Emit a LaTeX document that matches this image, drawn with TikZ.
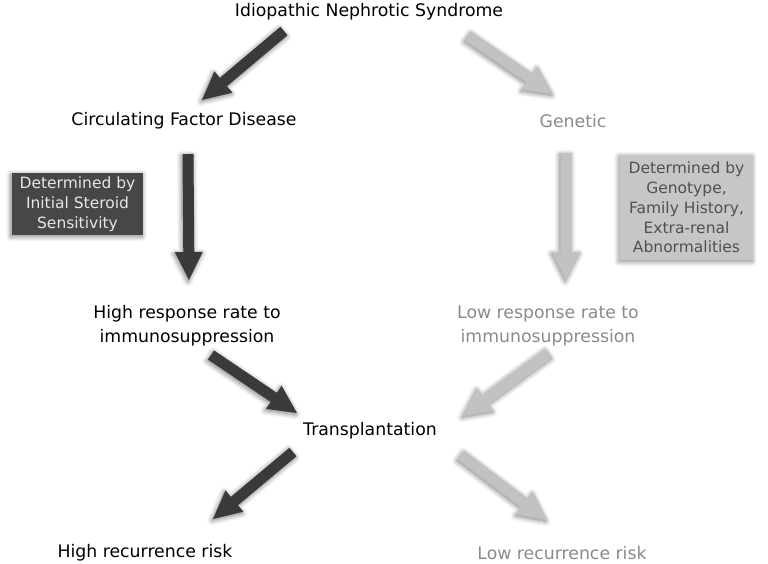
\documentclass[tikz,border=0pt]{standalone}
\usepackage{fontspec}
\setmainfont{DejaVu Sans}
\usetikzlibrary{calc,shadows.blur}
\definecolor{darkarr}{HTML}{3A3A3A}
\definecolor{lightarr}{HTML}{C2C2C2}
\definecolor{darkbox}{HTML}{474747}
\definecolor{lightbox}{HTML}{C6C6C6}
\definecolor{graytext}{HTML}{8A8A8A}
\definecolor{boxdarktext}{HTML}{505050}
\definecolor{boxlighttext}{HTML}{E6E6E6}
\newcommand\blockarr[3][]{%
  \path ($(#3)!28pt!(#2)$) coordinate (hb);
  \fill[#1] ($(#2)!5.5pt!90:(#3)$) -- ($(hb)!5.5pt!90:(#3)$) -- ($(hb)!14pt!90:(#3)$) -- (#3)
    -- ($(hb)!14pt!-90:(#3)$) -- ($(hb)!5.5pt!-90:(#3)$) -- ($(#2)!5.5pt!-90:(#3)$) -- cycle;}
\begin{document}
\begin{tikzpicture}[x=1pt,y=-1pt,
  lab/.style={font=\fontsize{17.3}{24}\selectfont, align=center, inner sep=0pt},
  dlab/.style={lab, text=black},
  glab/.style={lab, text=graytext},
  shad/.style={blur shadow={shadow xshift=-1pt, shadow yshift=-1.5pt, shadow blur radius=5pt, shadow opacity=50, shadow blur steps=10}},
  darrow/.style={fill=darkarr, shad},
  larrow/.style={fill=lightarr, shad},
  infobox/.style={font=\fontsize{15.5}{19.8}\selectfont, align=center, inner sep=0pt, shad}]
\useasboundingbox (0,0) rectangle (768,563);
% labels
\node[dlab, anchor=base] (ins) at (369,16) {Idiopathic Nephrotic Syndrome};
\node[dlab, anchor=base] (cfd) at (184,125) {Circulating Factor Disease};
\node[glab, anchor=base] (gen) at (573,127) {Genetic};
\node[dlab] (hrr) at (187,326) {High response rate to\\immunosuppression};
\node[glab] (lrr) at (548,326) {Low response rate to\\immunosuppression};
\node[dlab, anchor=base] (tx) at (370,435) {Transplantation};
\node[dlab, anchor=base] (hrisk) at (145,557) {High recurrence risk};
\node[glab, anchor=base] (lrisk) at (562,559) {Low recurrence risk};
% info boxes
\node[infobox, fill=darkbox, text=boxlighttext, minimum width=131pt, minimum height=62pt] (box1) at (77.5,204)
  {Determined by\\Initial Steroid\\Sensitivity};
\node[infobox, fill=lightbox, text=boxdarktext, minimum width=133pt, minimum height=105pt] (box2) at (686.5,207.5)
  {Determined by\\Genotype,\\Family History,\\Extra-renal\\Abnormalities};
% arrow end points
\coordinate (a1s) at (284,31);  \coordinate (a1e) at (202,100);
\coordinate (a2s) at (468,36);  \coordinate (a2e) at (553,94);
\coordinate (a3s) at (188,154); \coordinate (a3e) at (189,280);
\coordinate (a4s) at (566,153); \coordinate (a4e) at (566,280);
\coordinate (a5s) at (211,355); \coordinate (a5e) at (297,413);
\coordinate (a6s) at (549,353); \coordinate (a6e) at (463,416);
\coordinate (a7s) at (293,452); \coordinate (a7e) at (213,519);
\coordinate (a8s) at (461,455); \coordinate (a8e) at (547,520);
\blockarr[darrow]{a1s}{a1e}
\blockarr[larrow]{a2s}{a2e}
\blockarr[darrow]{a3s}{a3e}
\blockarr[larrow]{a4s}{a4e}
\blockarr[darrow]{a5s}{a5e}
\blockarr[larrow]{a6s}{a6e}
\blockarr[darrow]{a7s}{a7e}
\blockarr[larrow]{a8s}{a8e}
\end{tikzpicture}
\end{document}
